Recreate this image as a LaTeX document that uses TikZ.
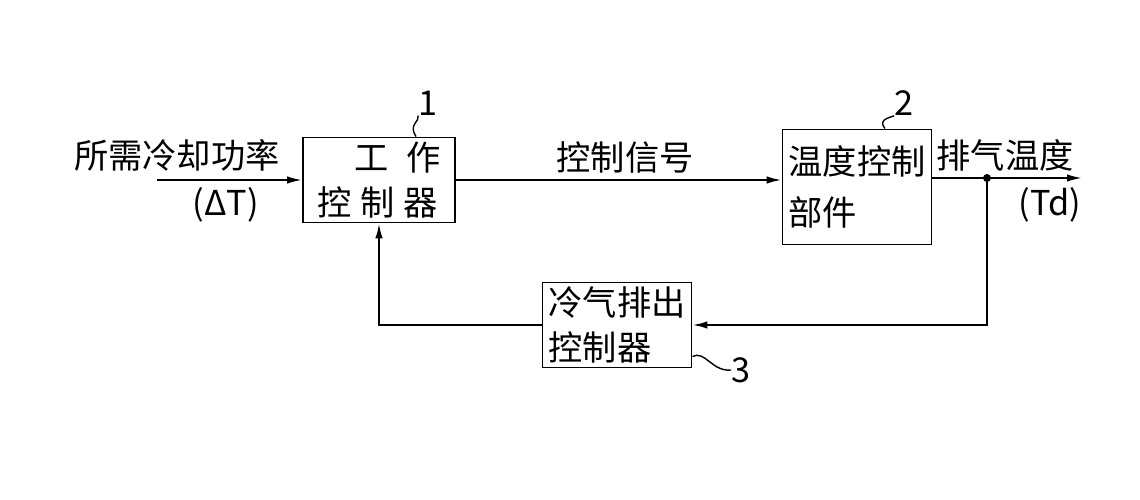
\documentclass[tikz,border=0pt]{standalone}
\usepackage{fontspec}
\setmainfont{Noto Sans CJK SC}
\usetikzlibrary{arrows.meta}

\begin{document}
\begin{tikzpicture}[x=0.02cm,y=-0.02cm,
      every node/.style = {font=\fontsize{19.5}{26}\selectfont, inner sep=0pt},
      block/.style = {draw, line width=1.1pt, align=left},
      link/.style = {draw, line width=1.1pt, -{Latex[length=3mm,width=1.5mm]}},
      tag/.style = {draw, line width=0.8pt}
   ]
   \useasboundingbox (0,0) rectangle (1140,500);

   % blocks
   \node[block, minimum width=3.04cm, minimum height=1.7cm] (ctrl) at (379,180)
      {\hspace*{0.75cm}工\hspace{0.5em}作\\ 控\hspace{0.25em}制\hspace{0.25em}器};
   \node[block, minimum width=2.98cm, minimum height=2.3cm, align=left] (temp) at (857,187)
      {温度控制\\[3pt]部件\phantom{控制}};
   \node[block, minimum width=2.98cm, minimum height=1.7cm] (vent) at (617,325)
      {冷气排出\\控制器\phantom{出}};

   % free ends
   \coordinate (in) at (157,180);
   \coordinate (tap) at (987,178);
   \coordinate (out) at (1082,178);

   % labels
   \node (need) at (177,155) {所需冷却功率};
   \node (dT) at (226,205) {(ΔT)};
   \node (sig) at (625,158) {控制信号};
   \node (exh) at (1005,155) {排气温度};
   \node (Td) at (1050,205) {(Td)};
   \node (n1) at (428,103) {1};
   \node (n2) at (904,103) {2};
   \node (n3) at (741,370) {3};

   % connectors
   \draw[link] (in) -- (ctrl.west);
   \draw[link] (ctrl.east) -- (ctrl.east -| temp.west);
   \draw[link] (temp.east |- tap) -- (out);
   \fill (tap) circle (4);
   \draw[link] (tap) |- (vent.east);
   \draw[link] (vent.west) -| (ctrl.south);

   % leaders
   \draw[tag] (ctrl.north -| 416,0) .. controls (408,124) and (420,122) .. (n1.south west);
   \draw[tag] (temp.north -| 885,0) .. controls (878,120) and (888,118) .. (n2.south west);
   \draw[tag] (vent.south east) ++(0,-12) .. controls (705,350) and (712,372) .. (n3.west);
\end{tikzpicture}
\end{document}
